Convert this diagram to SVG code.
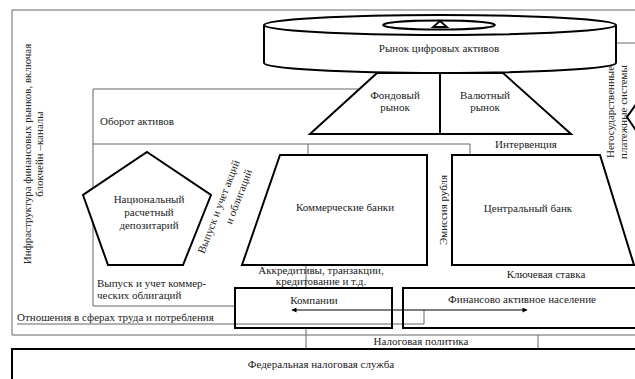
<svg xmlns="http://www.w3.org/2000/svg" width="635" height="379" viewBox="0 0 635 379">
<defs>
<style>
.t{font-family:"Liberation Serif","Times New Roman",serif;font-size:11px;fill:#222}
.c{text-anchor:middle}
.thin{fill:none;stroke:#666;stroke-width:1}
.thick{fill:#fff;stroke:#000;stroke-width:2}
.arr{fill:none;stroke:#000;stroke-width:1}
</style>
<marker id="ah" viewBox="0 0 10 10" refX="9" refY="5" markerWidth="7" markerHeight="5" orient="auto-start-reverse" markerUnits="userSpaceOnUse">
<path d="M0,0 L10,5 L0,10 Z" fill="#000"/>
</marker>
</defs>
<rect width="635" height="379" fill="#fff"/>
<g id="connectors">
<path class="thin" d="M635,10 H12 V335 H635"/>
<path class="thin" d="M616,43 H635"/>
<path class="thin" d="M358,89 H93 V306 H236"/>
<path class="thin" d="M93,144 H470 V155 M308,144 V155"/>
<path class="thin" d="M17,324 H424 V310"/>
<path class="thin" d="M306,265 V288 M306,328 V349 M538,335 V349"/>
<path class="arr" d="M292,310 H527" marker-start="url(#ah)" marker-end="url(#ah)"/>
</g>
<g id="frame-labels">
<text class="t c" transform="translate(31,154) rotate(-90)">Инфраструктура финансовых рынков, включая</text>
<text class="t c" transform="translate(43,154) rotate(-90)">блокчейн –каналы</text>
<text class="t c" transform="translate(614,112) rotate(-90)">Негосударственные</text>
<text class="t c" transform="translate(627,112) rotate(-90)">платежные системы</text>
<text class="t" x="100" y="125">Оборот активов</text>
<text class="t" x="17" y="321">Отношения в сферах труда и потребления</text>
<text class="t" x="97" y="287">Выпуск и учет коммер-</text>
<text class="t" x="97" y="299">ческих облигаций</text>
<text class="t c" transform="translate(222,208) rotate(-69)">Выпуск и учет акций</text>
<text class="t c" transform="translate(242,198) rotate(-69)">и облигаций</text>
<text class="t c" transform="translate(447,210) rotate(-90)">Эмиссия рубля</text>
<text class="t c" x="526" y="148">Интервенция</text>
<text class="t c" x="321" y="274">Аккредитивы, транзакции,</text>
<text class="t c" x="321" y="285">кредитование и т.д.</text>
<text class="t c" x="546" y="278">Ключевая ставка</text>
<text class="t c" x="421" y="345">Налоговая политика</text>
</g>
<g id="digital-market">
<path class="thick" d="M264,25 V63 A176,10 0 0 0 616,63 V25"/>
<ellipse class="thick" cx="440" cy="25" rx="176" ry="10"/>
<ellipse class="thick" cx="439" cy="25" rx="56" ry="4.5"/>
<path d="M433,27 L447,27 L440,21 Z" fill="#fff" stroke="#000" stroke-width="1.8"/>
<text class="t c" x="439" y="52">Рынок цифровых активов</text>
</g>
<g id="stock-fx-market">
<path class="thick" d="M377,73 L503,73 L571,134 L310,134 Z"/>
<path d="M440,73 V134" stroke="#000" stroke-width="2"/>
<text class="t c" x="395" y="99">Фондовый</text>
<text class="t c" x="395" y="111">рынок</text>
<text class="t c" x="485" y="99">Валютный</text>
<text class="t c" x="485" y="111">рынок</text>
</g>
<g id="depository">
<path class="thick" d="M147,152 L211,195 L183,265 L108,265 L83,195 Z"/>
<text class="t c" x="149" y="203">Национальный</text>
<text class="t c" x="149" y="216">расчетный</text>
<text class="t c" x="149" y="229">депозитарий</text>
</g>
<g id="commercial-banks">
<path class="thick" d="M280,155 L427,155 L427,265 L242,265 Z"/>
<text class="t c" x="345" y="211">Коммерческие банки</text>
</g>
<g id="central-bank">
<path class="thick" d="M452,155 L600,155 L634,265 L452,265 Z"/>
<text class="t c" x="528" y="212">Центральный банк</text>
</g>
<g id="payment-systems">
<path class="thick" d="M637,103 L627,117 L637,132"/>
</g>
<g id="companies">
<rect class="thick" x="235" y="288" width="157" height="40" style="fill:none"/>
<text class="t c" x="314" y="304">Компании</text>
</g>
<g id="population">
<rect class="thick" x="403" y="288" width="240" height="40" style="fill:none"/>
<text class="t c" x="522" y="303">Финансово активное население</text>
</g>
<g id="tax-service">
<rect class="thick" x="12" y="349" width="630" height="40"/>
<text class="t c" x="321" y="368">Федеральная налоговая служба</text>
</g>
</svg>
